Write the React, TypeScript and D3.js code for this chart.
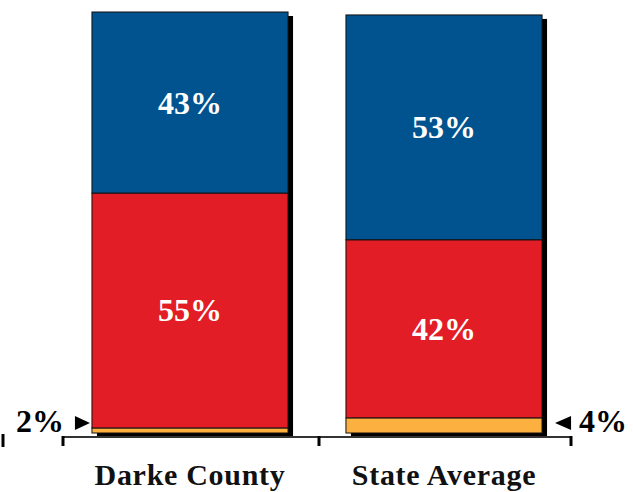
import React from "react";
import * as d3 from "d3";

const categories = ["Darke County", "State Average"];
const seriesNames = ["Blue", "Red", "Orange"];
const blueValues = [43.0, 53.4];
const redValues = [55.8, 42.3];
const orangeValues = [1.2, 3.6];
const blueLabels = ["43%", "53%"];
const redLabels = ["55%", "42%"];
const orangeLabels = ["2%", "4%"];

const W = 633;
const H = 492;
const colors = ["#00538F", "#E21D26", "#FBB040"];

export default function App() {
  const x = d3.scaleBand<string>().domain(categories).range([63, 571]).padding(0);
  const y = d3.scaleLinear().domain([0, 100]).range([433, 12]);
  const barW = x.bandwidth() * 0.772;
  const axisY = 437;

  const rows = categories.map((c, i) => ({
    cat: c,
    Blue: blueValues[i],
    Red: redValues[i],
    Orange: orangeValues[i],
  }));
  // stack bottom-up: Orange, Red, Blue
  const stack = d3.stack<any>().keys(["Orange", "Red", "Blue"]);
  const layers = stack(rows);
  const colorOf: Record<string, string> = { Blue: colors[0], Red: colors[1], Orange: colors[2] };
  const labelOf: Record<string, string[]> = { Blue: blueLabels, Red: redLabels };

  const font = "'Liberation Serif', 'Times New Roman', serif";

  return (
    <svg width={W} height={H} style={{ position: "absolute", left: 0, top: 0 }} fontFamily={font}>
      <rect width={W} height={H} fill="#fff" />
      {/* shadows */}
      {categories.map((c, i) => {
        const cx = (x(c) as number) + x.bandwidth() / 2;
        const top = y(blueValues[i] + redValues[i] + orangeValues[i]);
        return (
          <rect key={"sh" + c} x={cx - barW / 2 + 5} y={top + 4} width={barW} height={y(0) - top}
            fill="#000" />
        );
      })}
      {/* axis */}
      <line x1={63} x2={571} y1={axisY} y2={axisY} stroke="#333" strokeWidth={2} />
      {[63, 319, 571].map((tx) => (
        <line key={tx} x1={tx} x2={tx} y1={axisY - 1} y2={axisY + 9} stroke="#000" strokeWidth={3} />
      ))}
      <line x1={3} x2={3} y1={434} y2={447} stroke="#000" strokeWidth={3} />
      {/* segments */}
      {layers.map((layer) =>
        layer.map((d, i) => {
          const c = categories[i];
          const cx = (x(c) as number) + x.bandwidth() / 2;
          return (
            <rect key={layer.key + c} x={cx - barW / 2} y={y(d[1])} width={barW}
              height={y(d[0]) - y(d[1])} fill={colorOf[layer.key]} stroke="#111" strokeWidth={1} />
          );
        })
      )}
      {/* inside labels */}
      {layers.filter((l) => l.key !== "Orange").map((layer) =>
        layer.map((d, i) => {
          const c = categories[i];
          const cx = (x(c) as number) + x.bandwidth() / 2;
          const cy = (y(d[0]) + y(d[1])) / 2;
          return (
            <text key={"t" + layer.key + c} x={cx} y={cy + 11} textAnchor="middle" fill="#fff"
              fontWeight="bold" fontSize={32}>
              {labelOf[layer.key][i]}
            </text>
          );
        })
      )}
      {/* orange callouts */}
      {(() => {
        const c0 = categories[0];
        const left = (x(c0) as number) + x.bandwidth() / 2 - barW / 2;
        const c1 = categories[1];
        const right = (x(c1) as number) + x.bandwidth() / 2 + barW / 2;
        const ty = 423;
        return (
          <g>
            <path d={`M${left - 17},${ty - 7} L${left - 2},${ty} L${left - 17},${ty + 7} Z`} fill="#000" />
            <text x={left - 28} y={432} textAnchor="end" fontWeight="bold" fontSize={32} fill="#000">
              {orangeLabels[0]}
            </text>
            <path d={`M${right + 29},${ty - 7} L${right + 13},${ty} L${right + 29},${ty + 7} Z`} fill="#000" />
            <text x={right + 37} y={432} textAnchor="start" fontWeight="bold" fontSize={32} fill="#000">
              {orangeLabels[1]}
            </text>
          </g>
        );
      })()}
      {/* category labels */}
      {categories.map((c) => (
        <text key={"c" + c} x={(x(c) as number) + x.bandwidth() / 2} y={485} textAnchor="middle"
          fontWeight="bold" fontSize={30} letterSpacing={0.7} fill="#111">
          {c}
        </text>
      ))}
    </svg>
  );
}
